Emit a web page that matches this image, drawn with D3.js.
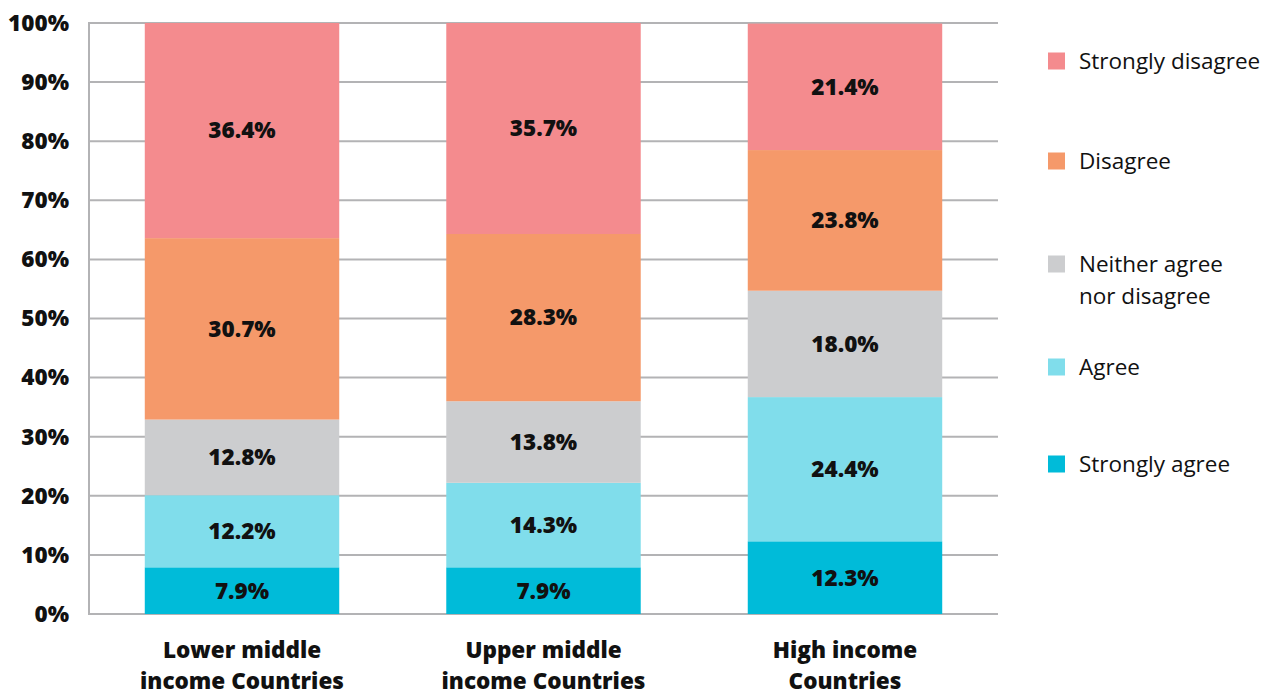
<!DOCTYPE html>
<html>
<head>
<meta charset="utf-8">
<script src="https://cdn.jsdelivr.net/npm/d3@7"></script>
<style>
  html, body { margin: 0; padding: 0; background: #fff; }
  svg { display: block; }
</style>
</head>
<body>
<svg id="chart" width="1275" height="695"></svg>
<script>
// Income groups (x axis)
const categories = [
  ["Lower middle", "income Countries"],
  ["Upper middle", "income Countries"],
  ["High income", "Countries"]
];
const categoryKeys = ["lower", "upper", "high"];

// Response levels, stacked bottom to top
const seriesNames = ["Strongly agree", "Agree", "Neither agree nor disagree", "Disagree", "Strongly disagree"];
const seriesColors = ["#00bbd9", "#80ddeb", "#cccdcf", "#f5996a", "#f48b8e"];

// Share of respondents (%) per income group
const stronglyAgree    = [7.9, 7.9, 12.3];
const agree            = [12.2, 14.3, 24.4];
const neither          = [12.8, 13.8, 18.0];
const disagree         = [30.7, 28.3, 23.8];
const stronglyDisagree = [36.4, 35.7, 21.4];

const yTicks = [0, 10, 20, 30, 40, 50, 60, 70, 80, 90, 100];

// Legend order (top to bottom)
const legendItems = [
  { name: ["Strongly disagree"], color: seriesColors[4] },
  { name: ["Disagree"], color: seriesColors[3] },
  { name: ["Neither agree", "nor disagree"], color: seriesColors[2] },
  { name: ["Agree"], color: seriesColors[1] },
  { name: ["Strongly agree"], color: seriesColors[0] }
];

const values = [stronglyAgree, agree, neither, disagree, stronglyDisagree];
const rows = categoryKeys.map((k, i) => {
  const r = { key: k };
  seriesNames.forEach((s, j) => { r[s] = values[j][i]; });
  return r;
});

const svg = d3.select("#chart");
const margin = { left: 89, top: 23, right: 1275 - 998, bottom: 695 - 614 };
const W = 1275, H = 695;

const x = d3.scaleBand().domain(categoryKeys)
  .range([margin.left, W - margin.right])
  .paddingInner(0.355).paddingOuter(0.185);
const y = d3.scaleLinear().domain([0, 100]).range([H - margin.bottom, margin.top]);

const font = "'Open Sans', 'Lato', sans-serif";
const gridColor = "#b3b3b5";

// Gridlines
svg.append("g").selectAll("line").data(yTicks).join("line")
  .attr("x1", margin.left).attr("x2", W - margin.right)
  .attr("y1", d => y(d)).attr("y2", d => y(d))
  .attr("stroke", gridColor).attr("stroke-width", 2);

// Left axis line
svg.append("line")
  .attr("x1", margin.left).attr("x2", margin.left)
  .attr("y1", y(100) - 1).attr("y2", y(0) + 1)
  .attr("stroke", gridColor).attr("stroke-width", 2);

// Y tick labels
svg.append("g").selectAll("text").data(yTicks).join("text")
  .attr("x", 69).attr("y", d => y(d))
  .attr("dy", "0.35em")
  .attr("text-anchor", "end")
  .attr("font-family", font).attr("font-weight", 800).attr("font-size", 22.5)
  .attr("fill", "#111")
  .text(d => d + "%");

// Stacked bars
const stacked = d3.stack().keys(seriesNames)(rows);
const layers = svg.append("g").selectAll("g").data(stacked).join("g")
  .attr("fill", (d, i) => seriesColors[i]);

layers.selectAll("rect").data(d => d).join("rect")
  .attr("x", d => x(d.data.key))
  .attr("width", x.bandwidth())
  .attr("y", d => y(Math.min(100, d[1])))
  .attr("height", d => y(d[0]) - y(Math.min(100, d[1])));

// Value labels
layers.selectAll("text").data((d) => d.map(v => ({ v, key: d.key }))).join("text")
  .attr("x", d => x(d.v.data.key) + x.bandwidth() / 2)
  .attr("y", d => (y(d.v[0]) + y(Math.min(100, d.v[1]))) / 2)
  .attr("dy", "0.35em")
  .attr("text-anchor", "middle")
  .attr("font-family", font).attr("font-weight", 800).attr("font-size", 22.5)
  .attr("fill", "#111")
  .text(d => d.v.data[d.key].toFixed(1) + "%");

// Category labels
const catG = svg.append("g").selectAll("text").data(categoryKeys).join("text")
  .attr("text-anchor", "middle")
  .attr("font-family", font).attr("font-weight", 800).attr("font-size", 22.5)
  .attr("fill", "#111");
catG.selectAll("tspan").data((k, i) => categories[i].map(line => ({ k, line }))).join("tspan")
  .attr("x", d => x(d.k) + x.bandwidth() / 2)
  .attr("y", (d, j) => 658 + j * 31)
  .text(d => d.line);

// Legend
const legendY = [61, 161, 264, 367, 464];
const lg = svg.append("g").selectAll("g").data(legendItems).join("g")
  .attr("transform", (d, i) => `translate(1048, ${legendY[i]})`);
lg.append("rect").attr("x", 0).attr("y", -8.5).attr("width", 17).attr("height", 17)
  .attr("fill", d => d.color);
lg.append("text")
  .attr("font-family", font).attr("font-size", 22.5).attr("fill", "#111")
  .selectAll("tspan").data(d => d.name).join("tspan")
  .attr("x", 31).attr("y", (d, j) => j * 32)
  .attr("dy", "0.35em")
  .text(d => d);
</script>
</body>
</html>
